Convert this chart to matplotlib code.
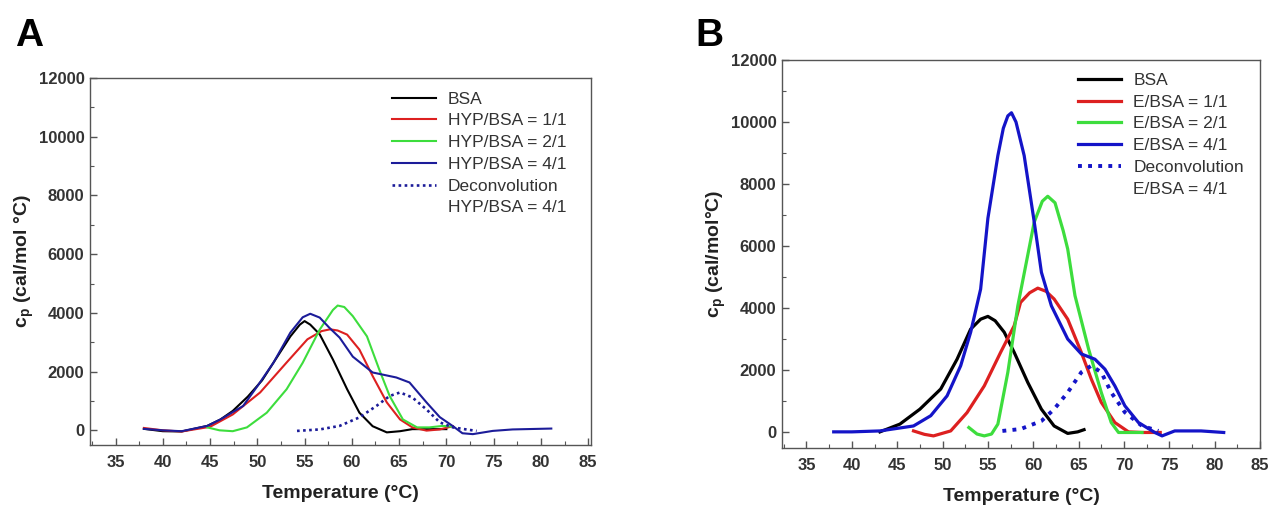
import matplotlib
matplotlib.use('Agg')
import matplotlib.pyplot as plt
from matplotlib.lines import Line2D
from matplotlib.ticker import MultipleLocator

plt.rcParams['font.family'] = ['Liberation Sans', 'DejaVu Sans']
plt.rcParams['mathtext.fontset'] = 'custom'
plt.rcParams['mathtext.rm'] = 'Liberation Sans:bold'

# ---- panel A: HYP/BSA ----
a_bsa_t = [38, 40, 42, 44.7, 46.1, 47.4, 49, 50.5, 52, 53.5, 54.5, 55.0, 55.6, 56.6,
           58.0, 59.5, 60.8, 62.2, 63.7, 65.1, 66.4, 68, 70]
a_bsa_cp = [50, -30, -40, 150, 370, 660, 1150, 1700, 2450, 3200, 3600, 3720, 3600, 3270,
            2410, 1400, 600, 140, -70, -30, 40, 40, 40]
a_11_t = [38, 40, 42, 45, 47.4, 50.3, 53.1, 55.3, 56.8, 57.7, 58.5, 59.5, 60.8, 62.2,
          63.7, 65.1, 66.4, 67.9, 69.3, 70.7]
a_11_cp = [80, 0, -40, 120, 540, 1290, 2310, 3100, 3380, 3440, 3400, 3260, 2750, 1850,
           950, 370, 100, -10, 30, 140]
a_21_t = [44.7, 46, 47.4, 48.9, 51, 53.1, 54.8, 56.6, 58, 58.5, 59.2, 60.1, 61.6, 62.9,
          64, 65.4, 66.9, 68.2, 69.6, 70.5]
a_21_cp = [100, 0, -30, 100, 600, 1400, 2300, 3430, 4100, 4250, 4200, 3890, 3200, 2070,
           1170, 370, 100, 100, 150, 130]
a_41_t = [38, 40, 42, 44.7, 46.1, 47.4, 48.5, 50, 51.7, 53.5, 54.8, 55.6, 56.6, 57.6,
          58.7, 60.1, 62.2, 64.7, 66.1, 67.9, 69.3, 70.7, 71.7, 72.8, 74.9, 77, 81.1]
a_41_cp = [50, 0, -30, 150, 370, 620, 830, 1500, 2300, 3330, 3850, 3970, 3840, 3500,
           3160, 2510, 1970, 1800, 1630, 950, 450, 140, -100, -130, -20, 30, 60]
a_dec_t = [54.2, 56.6, 58.7, 60.8, 62.6, 64.0, 65.1, 66.4, 67.9, 69.3, 70.7, 72.1, 73.2]
a_dec_cp = [-20, 30, 150, 440, 830, 1170, 1290, 1120, 710, 270, 100, 30, -20]

# ---- panel B: E/BSA ----
b_bsa_t = [43.1, 45.3, 47.5, 49.8, 51.6, 53.1, 54.2, 55.0, 55.8, 56.8, 57.9, 59.4,
           60.9, 62.3, 63.8, 64.9, 65.6]
b_bsa_cp = [20, 270, 750, 1400, 2360, 3330, 3650, 3740, 3600, 3230, 2580, 1610,
            750, 210, -30, 20, 90]
b_11_t = [46.8, 48, 49, 50.9, 52.7, 54.6, 56.4, 57.9, 58.6, 59.6, 60.5, 61.4, 62.3,
          63.8, 65.3, 66.4, 67.5, 69, 70.5, 72, 74]
b_11_cp = [50, -60, -110, 50, 640, 1500, 2580, 3440, 4190, 4500, 4650, 4550, 4300,
           3650, 2580, 1720, 970, 320, 20, 0, 0]
b_21_t = [52.9, 53.8, 54.6, 55.4, 56.1, 57.2, 58.3, 59.6, 60.1, 61.0, 61.6, 62.4, 63.3,
          63.8, 64.6, 66.1, 67.5, 68.6, 69.4, 72]
b_21_cp = [160, -50, -110, -50, 270, 1940, 4080, 6020, 6770, 7450, 7610, 7400, 6500,
           5910, 4410, 2690, 1290, 320, 0, 0]
b_41_t = [38, 40, 43.1, 46.8, 48.7, 50.5, 52, 53.1, 54.2, 55, 56.1, 56.7, 57.2, 57.6,
          58.1, 59, 60.1, 60.9, 62, 63.8, 65.3, 66.8, 67.9, 69, 70.1, 71.6, 73.4, 74.2,
          75.6, 78.5, 81]
b_41_cp = [20, 20, 50, 210, 540, 1180, 2150, 3230, 4620, 6900, 8920, 9800, 10200, 10300,
           10000, 8920, 6800, 5160, 4080, 3010, 2530, 2360, 2040, 1500, 860, 320, 0, -110,
           50, 50, 0]
b_dec_t = [56.6, 58.6, 60.9, 62.3, 63.8, 65.3, 66.4, 67.5, 68.6, 70.1, 72, 73.8]
b_dec_cp = [50, 110, 370, 750, 1290, 1940, 2150, 1940, 1290, 650, 210, 50]

labels_a = ['BSA', 'HYP/BSA = 1/1', 'HYP/BSA = 2/1', 'HYP/BSA = 4/1', 'Deconvolution', 'HYP/BSA = 4/1']
labels_b = ['BSA', 'E/BSA = 1/1', 'E/BSA = 2/1', 'E/BSA = 4/1', 'Deconvolution', 'E/BSA = 4/1']

RED = '#dd2020'
GREEN = '#3ddd3d'

fig = plt.figure(figsize=(12.71, 5.05), dpi=100)
ax_a = fig.add_axes([90 / 1271, 60 / 505, 501 / 1271, 367 / 505])
ax_b = fig.add_axes([782 / 1271, 57 / 505, 478 / 1271, 388 / 505])


def style(ax, ylab, xlim):
    ax.set_xlim(*xlim)
    ax.set_ylim(-500, 12000)
    ax.xaxis.set_major_locator(MultipleLocator(5))
    ax.xaxis.set_minor_locator(MultipleLocator(2.5))
    ax.yaxis.set_major_locator(MultipleLocator(2000))
    ax.yaxis.set_minor_locator(MultipleLocator(1000))
    ax.tick_params(which='both', direction='in', top=False, right=False,
                   color='#555555', labelcolor='#333333')
    ax.tick_params(which='major', length=5, width=1, labelsize=12)
    ax.tick_params(axis='x', which='major', pad=7)
    ax.tick_params(axis='y', which='major', pad=4)
    ax.tick_params(which='minor', length=3, width=0.8)
    for lab in ax.get_xticklabels() + ax.get_yticklabels():
        lab.set_fontweight('bold')
    for sp in ax.spines.values():
        sp.set_color('#555555')
        sp.set_linewidth(1)
    ax.set_xlabel('Temperature (°C)', fontsize=14, fontweight='bold', color='#222222', labelpad=11)
    ax.set_ylabel(ylab, fontsize=14, fontweight='bold', color='#222222', labelpad=2)


def draw(ax, curves, dec, blue, lw, dots, labels, anchor):
    colors = ['black', RED, GREEN, blue]
    handles = []
    for (t, cp), c in zip(curves, colors):
        h, = ax.plot(t, cp, color=c, lw=lw)
        handles.append(h)
    hd, = ax.plot(dec[0], dec[1], color=blue, lw=dots[0], linestyle=dots[1])
    handles.append(hd)
    handles.append(Line2D([], [], color='none'))
    leg = ax.legend(handles, labels, loc='upper left', bbox_to_anchor=anchor,
                    frameon=False, fontsize=12.5, handlelength=2.5, handletextpad=0.7,
                    labelspacing=0.38, borderpad=0, borderaxespad=0)
    for txt in leg.get_texts():
        txt.set_color('#333333')


draw(ax_a, [(a_bsa_t, a_bsa_cp), (a_11_t, a_11_cp), (a_21_t, a_21_cp), (a_41_t, a_41_cp)],
     (a_dec_t, a_dec_cp), '#1c1c99', 1.5, (1.9, (0, (1, 1.3))), labels_a, (0.603, 0.963))
draw(ax_b, [(b_bsa_t, b_bsa_cp), (b_11_t, b_11_cp), (b_21_t, b_21_cp), (b_41_t, b_41_cp)],
     (b_dec_t, b_dec_cp), '#1414c8', 2.3, (2.8, (0, (1, 1.6))), labels_b, (0.619, 0.967))

style(ax_a, r'c$_\mathrm{p}$ (cal/mol °C)', (32.3, 85.3))
style(ax_b, r'c$_\mathrm{p}$ (cal/mol°C)', (32.3, 85.0))

fig.text(15 / 1271, 1 - 46 / 505, 'A', fontsize=28, fontweight='bold')
fig.text(695 / 1271, 1 - 46 / 505, 'B', fontsize=28, fontweight='bold')

fig.savefig('out.png', dpi=100)
